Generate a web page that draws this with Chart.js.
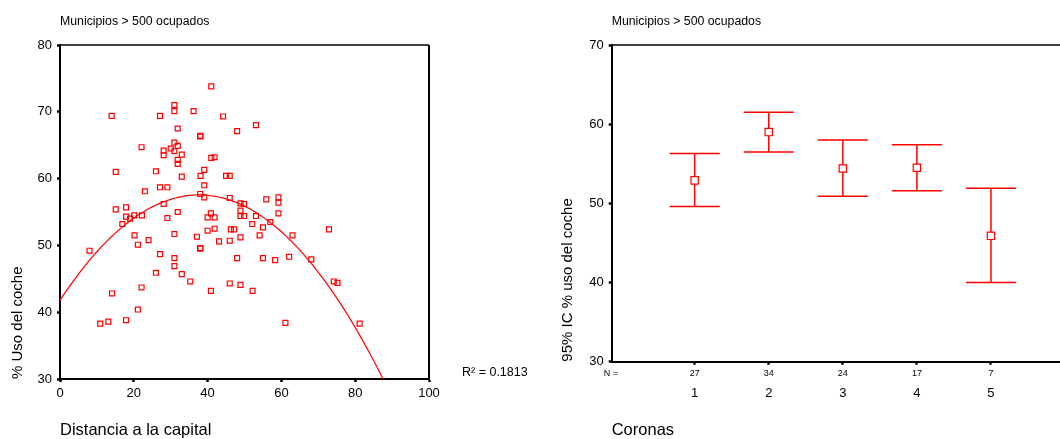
<!DOCTYPE html>
<html lang="es">
<head>
<meta charset="utf-8">
<title>Uso del coche</title>
<script src="https://cdn.jsdelivr.net/npm/chart.js@4"></script>
<style>
  html, body { margin: 0; padding: 0; background: #fff; overflow: hidden; width: 1060px; height: 439px; }
  .panel { position: absolute; top: 0; height: 439px; }
  #panelDispersion { left: 0; width: 530px; }
  #panelIC { left: 530px; width: 537px; }
</style>
</head>
<body>
<div class="panel" id="panelDispersion"><canvas id="dispersionChart"></canvas></div>
<div class="panel" id="panelIC"><canvas id="icChart"></canvas></div>
<script>
// ================== DATOS: DISPERSIÓN ==================
const distancia = [
  41.0, 14.0, 27.1, 31.0, 31.0, 36.2, 44.2, 53.1, 48.0, 31.9,
  38.0, 38.0, 22.1, 31.0, 30.0, 31.9, 28.1, 28.1, 31.0, 33.0,
  31.9, 31.9, 41.0, 41.9, 15.1, 26.0, 33.0, 39.1, 38.1, 45.0,
  46.0, 23.0, 27.1, 29.1, 39.1, 38.0, 39.1, 46.0, 55.9, 59.2,
  59.2, 59.2, 28.1, 15.1, 17.9, 17.9, 20.1, 19.0, 16.9, 22.2,
  29.1, 31.9, 40.0, 40.9, 41.9, 40.0, 41.9, 43.1, 37.1, 38.0,
  38.0, 31.0, 20.2, 24.0, 21.1, 8.0, 27.1, 31.0, 31.0, 26.0,
  33.0, 35.3, 40.9, 14.1, 22.1, 21.1, 17.9, 13.1, 10.9, 48.9,
  49.9, 48.9, 48.9, 49.9, 53.1, 52.1, 55.0, 57.0, 46.3, 47.2,
  48.9, 46.0, 54.1, 63.0, 72.9, 48.0, 55.0, 58.3, 62.1, 68.1,
  46.0, 48.9, 52.2, 74.2, 75.2, 61.1, 81.2
];
const usoCoche = [
  73.8, 69.4, 69.4, 71.0, 70.1, 70.1, 69.3, 68.0, 67.1, 67.5,
  66.4, 66.3, 64.7, 65.4, 64.5, 64.9, 64.2, 63.5, 64.1, 63.6,
  62.8, 62.2, 63.1, 63.2, 61.0, 61.1, 60.3, 61.3, 60.4, 60.4,
  60.4, 58.1, 58.7, 58.7, 59.0, 57.7, 57.2, 57.1, 56.9, 57.2,
  56.4, 54.8, 56.2, 55.4, 55.7, 54.3, 54.5, 54.0, 53.2, 54.5,
  54.1, 55.0, 54.2, 54.8, 54.2, 52.2, 52.5, 50.6, 51.3, 49.6,
  49.5, 51.7, 51.5, 50.8, 50.1, 49.2, 48.7, 48.1, 46.9, 45.9,
  45.7, 44.6, 43.2, 42.8, 43.7, 40.4, 38.8, 38.6, 38.3, 56.3,
  56.2, 55.2, 54.4, 54.4, 54.4, 53.2, 52.7, 53.5, 52.4, 52.4,
  51.2, 50.7, 51.5, 51.5, 52.4, 48.1, 48.1, 47.8, 48.3, 47.9,
  44.3, 44.1, 43.2, 44.6, 44.4, 38.4, 38.3
];
// ajuste cuadrático: a + b·x + c·x²
const ajusteCoef = [41.8, 0.836, -0.01109];
const r2Texto = "R² = 0.1813";

// ================== DATOS: INTERVALOS DE CONFIANZA ==================
const coronas = [1, 2, 3, 4, 5];
const casosN = [27, 34, 24, 17, 7];
const icMedia = [52.9, 59.0, 54.4, 54.5, 45.9];
const icInferior = [49.6, 56.5, 50.9, 51.6, 40.0];
const icSuperior = [56.3, 61.5, 58.0, 57.4, 51.9];

const subtitulo = "Municipios > 500 ocupados";

// ================== ESTILO ==================
const ROJO = "#ff0000";
Chart.defaults.font.family = "'Liberation Sans', Arial, sans-serif";
Chart.defaults.color = "#000";

// marco superior (y derecho) + subtítulo
const marco = {
  id: "marco",
  afterDatasetsDraw(chart, args, opts) {
    const { ctx, chartArea: { left, right, top, bottom } } = chart;
    ctx.save();
    ctx.strokeStyle = "#000";
    ctx.lineWidth = 1.3;
    ctx.beginPath();
    ctx.moveTo(left, top);
    ctx.lineTo(right, top);
    ctx.stroke();
    if (opts.derecha) {
      ctx.lineWidth = 2;
      ctx.beginPath();
      ctx.moveTo(right, top);
      ctx.lineTo(right, bottom + 1);
      ctx.stroke();
    }
    ctx.fillStyle = "#000";
    ctx.font = "12.3px 'Liberation Sans', Arial, sans-serif";
    ctx.textBaseline = "middle";
    ctx.textAlign = "left";
    ctx.fillText(subtitulo, left, 22);
    if (opts.nota) {
      ctx.font = "12.5px 'Liberation Sans', Arial, sans-serif";
      ctx.fillText(opts.nota, right + 33, bottom - 6);
    }
    ctx.restore();
  }
};

// barras de error y fila de N
const barrasError = {
  id: "barrasError",
  beforeDatasetsDraw(chart) {
    const { ctx, scales: { x, y } } = chart;
    ctx.save();
    ctx.strokeStyle = ROJO;
    ctx.lineWidth = 1.5;
    coronas.forEach((c, i) => {
      const px = x.getPixelForValue(c);
      const yLo = y.getPixelForValue(icInferior[i]);
      const yHi = y.getPixelForValue(icSuperior[i]);
      ctx.beginPath();
      ctx.moveTo(px, yHi); ctx.lineTo(px, yLo);
      ctx.moveTo(px - 25, yHi); ctx.lineTo(px + 25, yHi);
      ctx.moveTo(px - 25, yLo); ctx.lineTo(px + 25, yLo);
      ctx.stroke();
    });
    ctx.restore();
  },
  afterDraw(chart) {
    const { ctx, chartArea: { left, bottom }, scales: { x } } = chart;
    ctx.save();
    ctx.fillStyle = "#000";
    ctx.font = "9px 'Liberation Sans', Arial, sans-serif";
    ctx.textBaseline = "middle";
    ctx.textAlign = "left";
    ctx.fillText("N =", left - 8, bottom + 12);
    ctx.textAlign = "center";
    coronas.forEach((c, i) => {
      ctx.fillText(String(casosN[i]), x.getPixelForValue(c), bottom + 12);
    });
    ctx.restore();
  }
};

const marcasEje = { drawOnChartArea: false, tickLength: 3, tickWidth: 2.5, color: "#000" };
const bordeEje = { color: "#000", width: 2 };

// ================== GRÁFICO DISPERSIÓN ==================
const curva = [];
for (let d = 0; d <= 90; d += 1) {
  curva.push({ x: d, y: ajusteCoef[0] + ajusteCoef[1] * d + ajusteCoef[2] * d * d });
}

new Chart(document.getElementById("dispersionChart"), {
  type: "scatter",
  data: {
    datasets: [
      {
        data: distancia.map((d, i) => ({ x: d, y: usoCoche[i] })),
        pointStyle: "rect",
        pointRadius: 3.5,
        pointBorderWidth: 1.2,
        pointBorderColor: ROJO,
        pointBackgroundColor: "rgba(0,0,0,0)"
      },
      {
        data: curva,
        showLine: true,
        borderColor: ROJO,
        borderWidth: 1.2,
        pointRadius: 0
      }
    ]
  },
  options: {
    responsive: true,
    maintainAspectRatio: false,
    animation: false,
    events: [],
    layout: { padding: { top: 45, right: 101, left: 0, bottom: 0 } },
    plugins: {
      legend: { display: false },
      tooltip: { enabled: false },
      marco: { derecha: true, nota: r2Texto }
    },
    scales: {
      x: {
        type: "linear", min: 0, max: 100,
        ticks: { stepSize: 20, padding: 4, font: { size: 13 } },
        grid: marcasEje,
        border: bordeEje,
        title: { display: true, text: "Distancia a la capital", align: "start", font: { size: 16.5, lineHeight: 1 }, padding: 0 },
        afterFit: s => { s.height = 60; }
      },
      y: {
        min: 30, max: 80,
        ticks: { stepSize: 10, padding: 5, font: { size: 13 } },
        grid: marcasEje,
        border: bordeEje,
        title: { display: true, text: "% Uso del coche", align: "start", font: { size: 15, lineHeight: 1 }, padding: { top: 10.5, bottom: 0 } },
        afterFit: s => { s.width = 60; }
      }
    }
  },
  plugins: [marco]
});

// ================== GRÁFICO IC 95% ==================
new Chart(document.getElementById("icChart"), {
  type: "scatter",
  data: {
    datasets: [{
      data: coronas.map((c, i) => ({ x: c, y: icMedia[i] })),
      pointStyle: "rect",
      pointRadius: 5.2,
      pointBorderWidth: 1.2,
      pointBorderColor: ROJO,
      pointBackgroundColor: "#fff"
    }]
  },
  options: {
    responsive: true,
    maintainAspectRatio: false,
    animation: false,
    events: [],
    layout: { padding: { top: 45, right: 0, left: 0, bottom: 0 } },
    plugins: {
      legend: { display: false },
      tooltip: { enabled: false },
      marco: { derecha: false }
    },
    scales: {
      x: {
        type: "linear", min: -0.12, max: 5.94,
        afterBuildTicks: s => { s.ticks = coronas.map(v => ({ value: v })); },
        ticks: { padding: 21, font: { size: 13 } },
        grid: marcasEje,
        border: bordeEje,
        title: { display: true, text: "Coronas", align: "start", font: { size: 16.5, lineHeight: 1 }, padding: 0 },
        afterFit: s => { s.height = 77.3; }
      },
      y: {
        min: 30, max: 70,
        ticks: { stepSize: 10, padding: 5, font: { size: 13 } },
        grid: marcasEje,
        border: bordeEje,
        title: { display: true, text: "95% IC % uso del coche", align: "start", font: { size: 15, lineHeight: 1 }, padding: { top: 30.5, bottom: 0 } },
        afterFit: s => { s.width = 81.7; }
      }
    }
  },
  plugins: [marco, barrasError]
});
</script>
</body>
</html>
